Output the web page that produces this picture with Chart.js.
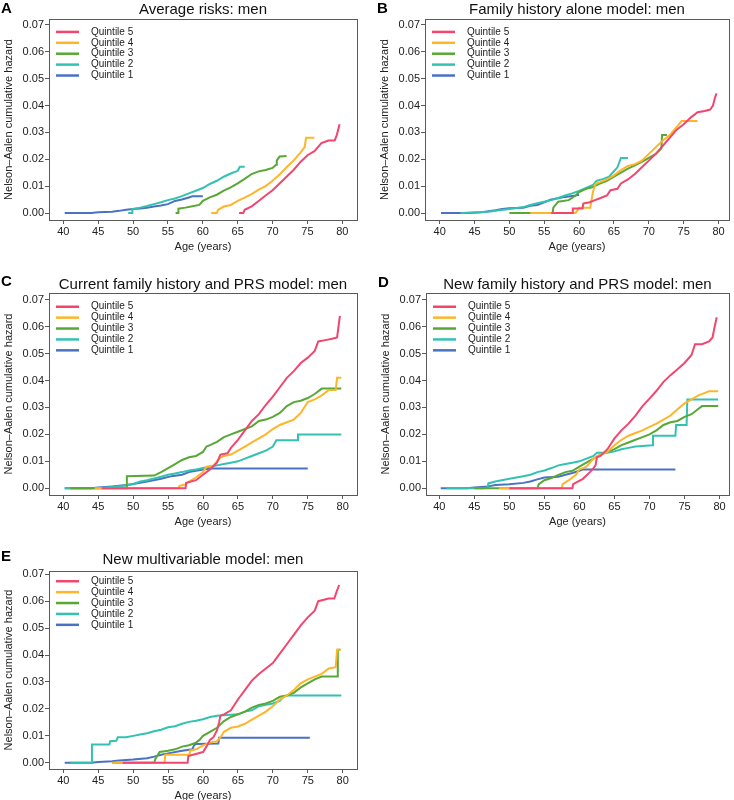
<!DOCTYPE html>
<html>
<head>
<meta charset="utf-8">
<script src="https://cdn.jsdelivr.net/npm/chart.js@4/dist/chart.umd.min.js"></script>
<style>
  body { margin: 0; background: #fff; width: 734px; height: 800px; overflow: hidden; position: relative;
         font-family: "Liberation Sans", Arial, sans-serif; }
  canvas { position: absolute; }
  .title { position: absolute; font-size: 15px; line-height: 18px; text-align: center; color: #111; white-space: nowrap; }
  .letter { position: absolute; font-size: 15px; line-height: 18px; font-weight: bold; color: #000; }
</style>
</head>
<body>
<script>
const quintiles = ['Quintile 5', 'Quintile 4', 'Quintile 3', 'Quintile 2', 'Quintile 1'];
const xTicks = [40, 45, 50, 55, 60, 65, 70, 75, 80];
const yTicks = [0, 0.01, 0.02, 0.03, 0.04, 0.05, 0.06, 0.07];

// [age, cumulative hazard]
// A: Average risks
const A_q5 = [[65.2,0],[65.8,0],[66,0.0012],[67,0.0025],[68,0.0045],[69,0.0065],[70,0.0085],[71,0.011],[72,0.0135],[73,0.016],[74,0.019],[75,0.0215],[76,0.023],[77,0.026],[78,0.027],[78.9,0.027],[79.2,0.029],[79.4,0.031],[79.6,0.033]];
const A_q4 = [[61.2,0],[62,0],[62.2,0.0012],[63,0.0024],[64,0.003],[65,0.0045],[66,0.0057],[67,0.007],[68,0.0087],[69,0.01],[70,0.012],[71,0.0143],[72,0.017],[73,0.0195],[74,0.0225],[74.6,0.0245],[74.8,0.028],[76,0.028]];
const A_q3 = [[56.1,0],[56.5,0],[56.5,0.0016],[57.5,0.002],[58.5,0.0025],[59.5,0.003],[60,0.0045],[61,0.0058],[62,0.0068],[63,0.0083],[64,0.0095],[65,0.011],[66,0.0127],[67,0.0145],[68,0.0155],[69,0.016],[70,0.0168],[70.5,0.018],[70.6,0.0195],[71,0.021],[72,0.0212]];
const A_q2 = [[49.3,0],[49.9,0],[49.9,0.0015],[51,0.002],[52,0.0026],[53,0.0033],[54,0.004],[55,0.0048],[56,0.0054],[57,0.0063],[58,0.0073],[59,0.0083],[60,0.0093],[61,0.0108],[62,0.012],[63,0.0135],[64,0.0147],[65,0.0157],[65.3,0.0172],[66,0.0172]];
const A_q1 = [[40.2,0],[44,0],[45,0.0003],[47,0.0005],[48,0.0008],[49,0.0012],[50,0.0015],[51,0.0017],[52,0.002],[53,0.0024],[54,0.0028],[55,0.0033],[56,0.0045],[57,0.005],[58,0.0058],[58.5,0.0062],[60,0.0062]];

// B: Family history alone
const B_q5 = [[56,0],[59,0],[59.1,0.0017],[60.5,0.0017],[60.6,0.0035],[61.5,0.004],[62,0.0045],[63,0.0055],[64,0.0065],[64.5,0.0085],[65.5,0.009],[66,0.011],[67,0.0125],[68,0.0145],[69,0.017],[70,0.0195],[71,0.022],[72,0.025],[73,0.028],[74,0.031],[75,0.033],[76,0.0355],[77,0.0375],[78,0.038],[78.8,0.0385],[79.2,0.04],[79.5,0.043],[79.7,0.0445]];
const B_q4 = [[53,0],[59.5,0],[60,0.002],[61.6,0.002],[62,0.008],[62.4,0.011],[63,0.0115],[64,0.0125],[65,0.014],[66,0.016],[67,0.0175],[68,0.0182],[69,0.0195],[70,0.022],[71,0.0245],[72,0.027],[73,0.029],[74,0.032],[74.7,0.0342],[77,0.0342]];
const B_q3 = [[50,0],[56.2,0],[56.3,0.002],[57,0.0042],[58.5,0.0048],[59.5,0.0065],[60,0.0078],[61,0.009],[62,0.0097],[63,0.011],[64,0.012],[65,0.0135],[66,0.015],[67,0.0165],[68,0.0177],[69,0.019],[70,0.0205],[71,0.022],[71.8,0.024],[71.9,0.029],[72.6,0.029]];
const B_q2 = [[43,0],[45,0.0002],[47,0.0005],[48,0.0008],[50,0.0015],[52,0.0022],[53,0.003],[54,0.0036],[55,0.0042],[56,0.0048],[57,0.0056],[58,0.0065],[59,0.0073],[60,0.0082],[61,0.0093],[62,0.0105],[62.5,0.012],[63.5,0.0127],[64.3,0.0135],[64.8,0.015],[65.5,0.017],[66,0.0205],[67,0.0205]];
const B_q1 = [[40.2,0],[44,0],[46,0.0003],[48,0.001],[49,0.0015],[50,0.0018],[52,0.002],[53,0.0027],[54,0.003],[55,0.004],[56,0.005],[57,0.0055],[58,0.006],[59.5,0.0065],[60,0.0068]];

// C: Current family history and PRS
const C_q5 = [[45.5,0],[57.5,0],[57.6,0.002],[59,0.003],[60,0.005],[61,0.007],[62,0.0095],[62.5,0.0125],[63.5,0.013],[64,0.015],[65,0.018],[66,0.0215],[67,0.025],[68,0.0275],[69,0.031],[70,0.034],[71,0.0375],[72,0.041],[73,0.0435],[74,0.0465],[75,0.0485],[76,0.051],[76.5,0.0545],[77.5,0.055],[78.5,0.0555],[79.2,0.056],[79.4,0.06],[79.6,0.064]];
const C_q4 = [[44.5,0],[56.5,0],[56.6,0.0008],[57.5,0.0015],[58,0.0025],[59,0.004],[60,0.006],[60.5,0.008],[61.5,0.0085],[62,0.01],[62.5,0.0115],[63,0.012],[64,0.0125],[65,0.014],[66,0.0155],[67,0.017],[68,0.0185],[69,0.02],[70,0.022],[71,0.0235],[72,0.0245],[73,0.0255],[74,0.028],[75,0.032],[76,0.033],[77,0.0345],[78,0.0365],[79,0.0365],[79.2,0.041],[79.8,0.041]];
const C_q3 = [[41,0],[49,0],[49.1,0.0045],[53,0.0047],[54,0.006],[55,0.0075],[56,0.009],[57,0.0105],[58,0.0115],[59,0.012],[60,0.0135],[60.5,0.0155],[61,0.016],[62,0.0172],[63,0.019],[64,0.02],[65,0.021],[66,0.022],[67,0.023],[68,0.025],[69,0.0255],[70,0.0265],[71,0.028],[72,0.0305],[73,0.032],[74,0.0325],[75,0.0335],[76,0.035],[77,0.037],[79.8,0.037]];
const C_q2 = [[40.2,0],[45,0],[47,0.0005],[49,0.001],[50,0.0016],[51,0.0025],[52,0.003],[53,0.0036],[54,0.0043],[55,0.005],[56,0.0055],[57,0.006],[58,0.0066],[59,0.007],[60,0.0075],[61,0.008],[62,0.0085],[63,0.009],[64,0.0095],[65,0.01],[66,0.011],[67,0.012],[68,0.013],[69,0.014],[70,0.0155],[70.5,0.0178],[73.5,0.0178],[73.6,0.02],[79.8,0.02]];
const C_q1 = [[40.2,0],[44,0],[45,0.0003],[47,0.0007],[49,0.0012],[50,0.0016],[52,0.0025],[54,0.0035],[55.5,0.0045],[57,0.005],[58,0.006],[59,0.0065],[60,0.007],[61,0.0073],[75,0.0073]];

// D: New family history and PRS
const D_q5 = [[50,0],[59,0],[59.1,0.0015],[60.5,0.0035],[61.5,0.006],[62,0.0075],[62.3,0.0085],[62.5,0.0115],[63,0.012],[64,0.0145],[65,0.0185],[66,0.0215],[67,0.024],[68,0.027],[69,0.0305],[70,0.0333],[71,0.0362],[72,0.0395],[73,0.042],[74,0.0442],[75,0.0465],[76,0.0495],[76.5,0.0535],[77.5,0.0535],[78.5,0.0545],[79,0.056],[79.3,0.06],[79.6,0.0635]];
const D_q4 = [[48.5,0],[57.5,0],[57.6,0.0015],[58.5,0.003],[59.5,0.005],[60,0.007],[60.5,0.0075],[61,0.008],[62,0.011],[63,0.0125],[64,0.0135],[65,0.016],[66,0.018],[67,0.0195],[68,0.0205],[69,0.0215],[70,0.0228],[71,0.024],[72,0.0255],[73,0.027],[74,0.0293],[75,0.0315],[76,0.033],[77,0.0345],[78,0.0355],[78.5,0.036],[79.8,0.036]];
const D_q3 = [[45,0],[54,0],[54.2,0.0015],[55,0.003],[56,0.0038],[57,0.005],[58,0.006],[59,0.0065],[60,0.008],[61,0.0095],[62,0.011],[63,0.0125],[64,0.0135],[65,0.0145],[66,0.016],[67,0.017],[68,0.018],[69,0.019],[70,0.02],[71,0.0215],[72,0.0235],[73,0.0245],[74,0.025],[75,0.0265],[76,0.0275],[77,0.0295],[77.5,0.0305],[79.8,0.0305]];
const D_q2 = [[41,0],[46.5,0],[46.9,0.0003],[47,0.0018],[48,0.0025],[50,0.0035],[51,0.004],[52,0.0045],[53,0.005],[54,0.006],[55,0.0066],[56,0.0075],[57,0.0085],[58,0.009],[59,0.0095],[60,0.01],[61,0.011],[62,0.012],[62.5,0.0132],[64,0.0132],[65,0.0137],[66,0.0145],[67,0.015],[68,0.0155],[70.4,0.016],[70.5,0.0195],[73.7,0.0195],[73.8,0.0235],[75.3,0.0235],[75.4,0.033],[79.8,0.033]];
const D_q1 = [[40.2,0],[44,0],[45,0.0003],[47,0.0007],[48,0.0012],[50,0.0015],[52,0.002],[53,0.0025],[54,0.0033],[55,0.004],[57,0.0043],[58,0.005],[59,0.0057],[60,0.0065],[60.5,0.007],[73.7,0.007]];

// E: New multivariable model
const E_q5 = [[48.5,0],[57.8,0],[57.9,0.0025],[60,0.004],[60.5,0.006],[61,0.0085],[61.5,0.0095],[62,0.012],[62.3,0.015],[62.5,0.0175],[63,0.018],[64,0.0195],[65,0.0235],[66,0.027],[67,0.0305],[68,0.033],[69,0.035],[70,0.037],[71,0.0405],[72,0.044],[73,0.0475],[74,0.051],[75,0.054],[76,0.0565],[76.5,0.06],[78,0.061],[78.8,0.061],[79.2,0.064],[79.5,0.066]];
const E_q4 = [[47,0],[54.5,0],[54.6,0.003],[58,0.003],[58.1,0.0045],[59,0.005],[60,0.0065],[61,0.0075],[62,0.008],[62.5,0.0095],[63,0.0115],[64,0.013],[65,0.0135],[66,0.0145],[67,0.016],[68,0.0175],[69,0.019],[70,0.021],[71,0.0235],[72,0.025],[73,0.027],[74,0.0295],[75,0.031],[76,0.032],[77,0.033],[78,0.035],[79,0.0355],[79.2,0.042],[79.7,0.042]];
const E_q3 = [[47,0],[53,0],[53.2,0.0015],[53.8,0.004],[55,0.0045],[56,0.005],[57,0.006],[58,0.0065],[59,0.0075],[59.5,0.0085],[60,0.01],[61,0.0115],[62,0.013],[63,0.0155],[64,0.017],[65,0.018],[66,0.019],[67,0.0205],[68,0.0215],[69,0.022],[70,0.023],[71,0.0245],[72,0.025],[73,0.026],[74,0.028],[75,0.0295],[76,0.031],[77,0.032],[79.2,0.032],[79.3,0.042],[79.7,0.042]];
const E_q2 = [[41,0],[44,0],[44.1,0.0068],[46.6,0.0068],[46.7,0.008],[47.6,0.0082],[47.8,0.0095],[49,0.0095],[50,0.01],[51,0.0105],[52,0.011],[53,0.0117],[54,0.0123],[55,0.0132],[56,0.0136],[57,0.0145],[58,0.0152],[59,0.0156],[60,0.0162],[61,0.017],[62,0.0175],[64,0.0178],[65,0.018],[66,0.019],[67,0.0195],[68,0.021],[69,0.0215],[70,0.022],[71,0.023],[71.5,0.0245],[72,0.025],[79.8,0.025]];
const E_q1 = [[40.2,0],[44,0],[45,0.0003],[47,0.0006],[48,0.0009],[50,0.0012],[52,0.0017],[53,0.0023],[54,0.003],[55,0.0035],[57,0.0045],[58.5,0.005],[58.7,0.0065],[59,0.007],[62.2,0.0072],[62.3,0.0093],[75.3,0.0093]];

const colors = ['#F2466F', '#FDB62A', '#58A836', '#33C2B1', '#4A72C2'];
const FONT = '"Liberation Sans", Arial, sans-serif';
Chart.defaults.font.family = FONT;
Chart.defaults.color = '#222';

const panels = [
  { letter: 'A', title: 'Average risks: men', series: [A_q5, A_q4, A_q3, A_q2, A_q1],
    left: 0, top: 9, w: 367, h: 247, pad: { left: 0, right: 10, top: 10, bottom: 0 },
    xMin: 37.95, xMax: 82.1, yMin: -0.0026, yMax: 0.0722, titleTop: 0, letterX: 1, letterY: -1.5 },
  { letter: 'B', title: 'Family history alone model: men', series: [B_q5, B_q4, B_q3, B_q2, B_q1],
    left: 367, top: 9, w: 367, h: 247, pad: { left: 9, right: 5, top: 10, bottom: 0 },
    xMin: 37.9, xMax: 81.5, yMin: -0.0026, yMax: 0.0722, titleTop: 0, letterX: 377, letterY: -1.5 },
  { letter: 'C', title: 'Current family history and PRS model: men', series: [C_q5, C_q4, C_q3, C_q2, C_q1],
    left: 0, top: 283, w: 367, h: 248, pad: { left: 0, right: 10, top: 10, bottom: 0 },
    xMin: 37.95, xMax: 82.05, yMin: -0.0025, yMax: 0.0725, titleTop: 274.5, letterX: 1, letterY: 271.5 },
  { letter: 'D', title: 'New family history and PRS model: men', series: [D_q5, D_q4, D_q3, D_q2, D_q1],
    left: 367, top: 283, w: 367, h: 248, pad: { left: 10, right: 5, top: 10, bottom: 0 },
    xMin: 38.1, xMax: 81.35, yMin: -0.0025, yMax: 0.0725, titleTop: 274.5, letterX: 378, letterY: 272.5 },
  { letter: 'E', title: 'New multivariable model: men', series: [E_q5, E_q4, E_q3, E_q2, E_q1],
    left: 0, top: 561, w: 367, h: 244, pad: { left: 0, right: 10, top: 10, bottom: 0 },
    xMin: 37.95, xMax: 82.05, yMin: -0.0023, yMax: 0.0712, titleTop: 549.5, letterX: 1, letterY: 546.5 }
];

const insideLegend = {
  id: 'insideLegend',
  afterDatasetsDraw(chart) {
    const { ctx, chartArea } = chart;
    const y0 = chart.scales.y.getPixelForValue(0.07) + 7;
    ctx.save();
    ctx.font = '10px ' + FONT;
    ctx.textBaseline = 'middle';
    chart.data.datasets.forEach((ds, i) => {
      const y = y0 + i * 10.9;
      ctx.strokeStyle = ds.borderColor;
      ctx.lineWidth = 2.5;
      ctx.beginPath();
      ctx.moveTo(chartArea.left + 7, y);
      ctx.lineTo(chartArea.left + 30, y);
      ctx.stroke();
      ctx.fillStyle = '#222';
      ctx.fillText(ds.label, chartArea.left + 42, y);
    });
    ctx.restore();
  }
};

const frame = {
  id: 'frame',
  afterDraw(chart) {
    const { ctx, chartArea: a } = chart;
    ctx.save();
    ctx.strokeStyle = '#5a5a5a';
    ctx.lineWidth = 1;
    ctx.strokeRect(Math.round(a.left) + 0.5, Math.round(a.top) + 0.5,
                   Math.round(a.right - a.left), Math.round(a.bottom - a.top));
    ctx.restore();
  }
};

panels.forEach(p => {
  const canvas = document.createElement('canvas');
  canvas.width = p.w;
  canvas.height = p.h;
  canvas.style.left = p.left + 'px';
  canvas.style.top = p.top + 'px';
  canvas.style.width = p.w + 'px';
  canvas.style.height = p.h + 'px';
  document.body.appendChild(canvas);

  const areaLeft = p.left + p.pad.left + 49;
  const areaRight = p.left + p.w - p.pad.right;
  const t = document.createElement('div');
  t.className = 'title';
  t.textContent = p.title;
  t.style.left = areaLeft + 'px';
  t.style.width = (areaRight - areaLeft) + 'px';
  t.style.top = p.titleTop + 'px';
  document.body.appendChild(t);

  const l = document.createElement('div');
  l.className = 'letter';
  l.textContent = p.letter;
  l.style.left = p.letterX + 'px';
  l.style.top = p.letterY + 'px';
  document.body.appendChild(l);

  new Chart(canvas.getContext('2d'), {
    type: 'line',
    data: {
      datasets: p.series.map((s, i) => ({
        label: quintiles[i],
        data: s,
        borderColor: colors[i],
        borderWidth: 2,
        pointRadius: 0,
        tension: 0,
        fill: false
      }))
    },
    options: {
      responsive: false,
      animation: false,
      layout: { padding: p.pad },
      plugins: { legend: { display: false }, tooltip: { enabled: false } },
      scales: {
        x: {
          type: 'linear', min: p.xMin, max: p.xMax,
          afterBuildTicks: s => { s.ticks = xTicks.map(v => ({ value: v })); },
          afterFit: s => { s.height = 36; },
          ticks: { font: { size: 11 }, color: '#222', padding: 1, maxRotation: 0 },
          grid: { drawOnChartArea: false, drawTicks: true, tickLength: 4, color: '#5a5a5a' },
          border: { display: true, color: '#5a5a5a' },
          title: { display: true, text: 'Age (years)', font: { size: 11 }, color: '#222', padding: { top: 0, bottom: 2 } }
        },
        y: {
          type: 'linear', min: p.yMin, max: p.yMax,
          afterBuildTicks: s => { s.ticks = yTicks.map(v => ({ value: v })); },
          afterFit: s => { s.width = 49; },
          ticks: { font: { size: 11 }, color: '#222', padding: 1, callback: v => v.toFixed(2) },
          grid: { drawOnChartArea: false, drawTicks: true, tickLength: 4, color: '#5a5a5a' },
          border: { display: true, color: '#5a5a5a' },
          title: { display: true, text: 'Nelson\u2013Aalen cumulative hazard', font: { size: 11 }, color: '#222', padding: { top: 2, bottom: 0 } }
        }
      }
    },
    plugins: [insideLegend, frame]
  });
});
</script>
</body>
</html>
